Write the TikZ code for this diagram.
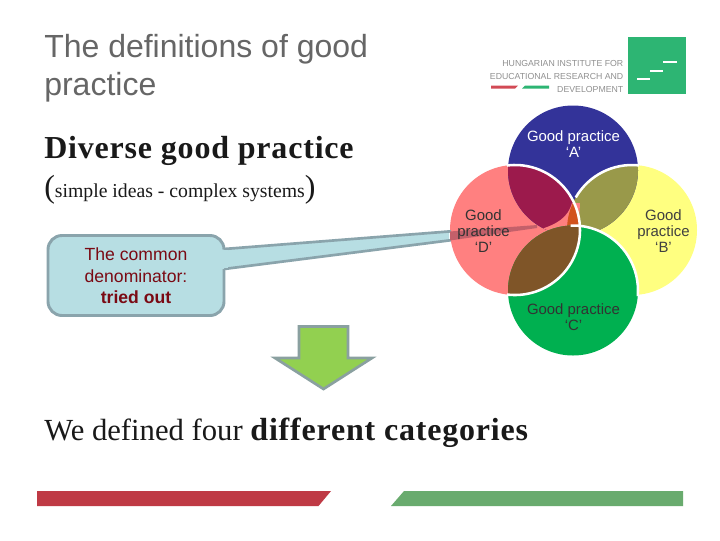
\documentclass[tikz,border=0pt]{standalone}
\usepackage{fontspec}
\setsansfont{Liberation Sans}
\newfontfamily\serifbody{Liberation Serif}
\newfontfamily\serifwide[LetterSpace=2.5]{Liberation Serif}
\definecolor{titlegray}{HTML}{666666}
\definecolor{logogray}{HTML}{909090}
\definecolor{logogreen}{HTML}{2DB573}
\definecolor{logored}{HTML}{D24A55}
\definecolor{bluefill}{HTML}{333399}
\definecolor{yellowfill}{HTML}{FFFF80}
\definecolor{greenfill}{HTML}{00B050}
\definecolor{pinkfill}{HTML}{FF8080}
\definecolor{maroonfill}{HTML}{9C1A4C}
\definecolor{olivefill}{HTML}{99994A}
\definecolor{brownfill}{HTML}{7F5528}
\definecolor{orangefill}{HTML}{D2521E}
\definecolor{tailrose}{HTML}{C4606A}
\definecolor{boxfill}{HTML}{B7DEE3}
\definecolor{boxedge}{HTML}{8AA4AC}
\definecolor{boxtext}{HTML}{7A0A14}
\definecolor{arrowfill}{HTML}{92D050}
\definecolor{arrowedge}{HTML}{8AA0A0}
\definecolor{barred}{HTML}{BF3A45}
\definecolor{bargreen}{HTML}{69AB6E}
\tikzset{
  venntext/.style={font=\sffamily\fontsize{11.2}{12}\selectfont, align=center, text=#1, inner sep=0pt},
  whitearc/.style={draw=white, line width=1.9pt},
  titletext/.style={font=\sffamily\fontsize{24}{28.5}\selectfont, text=titlegray, anchor=west, align=left, inner sep=0pt},
  logotext/.style={font=\sffamily\fontsize{6.55}{9}\selectfont, text=logogray, anchor=east, inner sep=0pt},
  serifhead/.style={anchor=base west, inner sep=0pt, text=black!90},
  logodash/.style={draw=white, line width=2.2pt},
}
\begin{document}
\begin{tikzpicture}[x=0.75pt,y=-0.75pt]
\useasboundingbox (0,0) rectangle (720,540);
\fill[white] (0,0) rectangle (720,540);
% centres
\coordinate (cA) at (573,170.5);
\coordinate (cB) at (632,230);
\coordinate (cC) at (573,290.5);
\coordinate (cD) at (515,230);
\def\rr{65}
% title
\node[titletext] (title) at (44,68) {The definitions of good\\practice};
% logo
\fill[logogreen] (628,37) rectangle (686,94);
\draw[logodash] (637,79) -- (650,79);
\draw[logodash] (650,71) -- (663,71);
\draw[logodash] (663,62) -- (677,62);
\node[logotext] (l1) at (623.5,63) {HUNGARIAN INSTITUTE FOR};
\node[logotext] (l2) at (623.5,76) {EDUCATIONAL RESEARCH AND};
\node[logotext] (l3) at (623.5,89) {DEVELOPMENT};
\fill[logored] (491,85.5) -- (518,85.5) -- (515,88.5) -- (491,88.5) -- cycle;
\fill[logogreen] (525,85.5) -- (549,85.5) -- (549,88.5) -- (522,88.5) -- cycle;
% headings
\node[serifhead, font=\serifwide\bfseries\fontsize{24}{28}\selectfont] (h1) at (44,158) {Diverse good practice};
\node[serifhead, font=\serifbody\fontsize{14.8}{20}\selectfont] (h2) at (44,197) {{\fontsize{24}{24}\selectfont(}simple ideas - complex systems{\fontsize{24}{24}\selectfont)}};
\node[serifhead, font=\serifbody\fontsize{23}{28}\selectfont] (h3) at (44,440) {We defined four {\serifwide\bfseries\fontsize{24}{28}\selectfont different categories}};
% venn
\fill[yellowfill] (cB) circle[radius=\rr];
\fill[pinkfill] (cD) circle[radius=\rr];
\fill[bluefill] (cA) circle[radius=\rr];
\begin{scope}\clip (cA) circle[radius=\rr]; \fill[olivefill] (cB) circle[radius=\rr]; \fill[maroonfill] (cD) circle[radius=\rr];
  \fill[pinkfill] (543,228.5) .. controls (556,224) and (568,218) .. (572,203) -- (580,203) -- (578,240) -- (540,240) -- cycle;
  \clip (cB) circle[radius=\rr]; \fill[orangefill] (cD) circle[radius=\rr];
\end{scope}
\fill[greenfill] (cC) circle[radius=\rr];
\begin{scope}\clip (cC) circle[radius=\rr]; \fill[brownfill] (cD) circle[radius=\rr]; \end{scope}
\draw[whitearc] (cD) ++(-97:\rr) arc[start angle=-97, end angle=97, radius=\rr];
\draw[whitearc] (cB) ++(-84:\rr) arc[start angle=-84, end angle=-150, radius=\rr];
\draw[whitearc] (cC) ++(-92:\rr) arc[start angle=-92, end angle=5, radius=\rr];
% callout
\fill[boxfill] (449,231.5) -- (224,249) -- (224,269) -- (449,240.5) -- cycle;
\draw[boxedge, line width=2pt] (451,231.3) -- (224,249);
\draw[boxedge, line width=2pt] (451,240.2) -- (224,269);
\fill[tailrose] (450,231.5) -- (537,225) -- (537,228) -- (450,240.5) -- cycle;
\draw[boxedge, line width=2.2pt, fill=boxfill, rounded corners=10.5pt] (224,249) -- (224,235.5) -- (48,235.5) -- (48,315.5) -- (224,315.5) -- (224,269);
\fill[boxfill] (222,250) rectangle (228,268);
\node[font=\sffamily\fontsize{13.2}{16}\selectfont, align=center, text=boxtext, inner sep=0pt] (boxlabel) at (136,276) {The common\\denominator:\\\textbf{tried out}};
% venn labels
\node[venntext=white] (la) at (573.5,144) {Good practice\\`A'};
\node[venntext=black!75] (lb) at (663.5,231) {Good\\practice\\`B'};
\node[venntext=black!80] (lc) at (573.5,317.5) {Good practice\\`C'};
\node[venntext=black!80] (ld) at (483.5,231) {Good\\practice\\`D'};
% arrow
\draw[arrowedge, line width=2pt, fill=arrowfill, line join=miter] (299,326.5) -- (348,326.5) -- (348,358) -- (372,358) -- (323.5,389) -- (275,358) -- (299,358) -- cycle;
% bars
\fill[barred] (37,491) -- (331,491) -- (318.5,506) -- (37,506) -- cycle;
\fill[bargreen] (404,491) -- (683,491) -- (683,506) -- (391,506) -- cycle;
\end{tikzpicture}
\end{document}
